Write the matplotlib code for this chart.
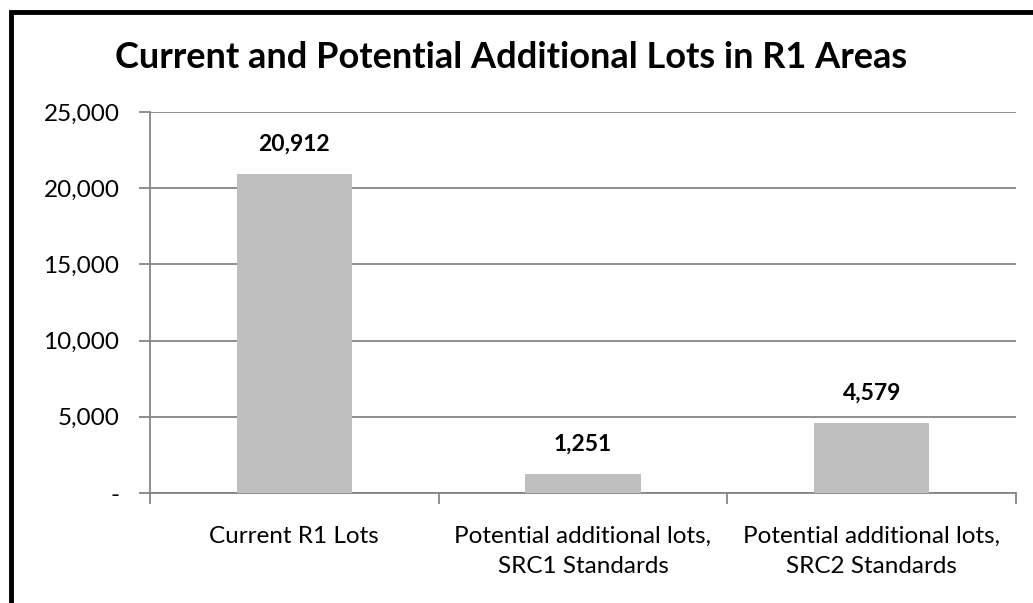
import matplotlib
matplotlib.use('Agg')
import matplotlib.pyplot as plt
from matplotlib.patches import Rectangle
from matplotlib.ticker import FuncFormatter, FixedLocator

categories = ['Current R1 Lots',
              'Potential additional lots,\nSRC1 Standards',
              'Potential additional lots,\nSRC2 Standards']
lots = [20912, 1251, 4579]
y_ticks = [0, 5000, 10000, 15000, 20000, 25000]

plt.rcParams['font.family'] = ['Lato', 'DejaVu Sans']

fig = plt.figure(figsize=(10.33, 6.03), dpi=100)
ax = fig.add_axes([150 / 1033, 1 - 493 / 603, 866 / 1033, 381 / 603])

grid_col = '#868686'
x = range(len(lots))
ax.bar(x, lots, width=0.4, color='#bfbfbf', zorder=3)

for i, v in enumerate(lots):
    ax.annotate(f'{v:,}', (i, v), xytext=(0, 21.5), textcoords='offset points',
                ha='center', va='center', fontsize=16.5, fontweight='bold',
                color='black')

ax.set_xlim(-0.5, 2.5)
ax.set_ylim(0, 25000)
ax.set_yticks(y_ticks)
ax.yaxis.set_major_formatter(FuncFormatter(lambda v, p: '-' if v == 0 else f'{int(v):,}'))
ax.yaxis.grid(True, color=grid_col, linewidth=1.3, zorder=0)

ax.set_xticks(list(x))
ax.set_xticklabels(categories, fontsize=17.5, linespacing=1.5)
ax.xaxis.set_minor_locator(FixedLocator([-0.5, 0.5, 1.5, 2.5]))
ax.tick_params(axis='x', which='major', length=0, pad=24)
ax.tick_params(axis='x', which='minor', length=8, width=1.3, color=grid_col)
ax.tick_params(axis='y', length=8, width=1.3, color=grid_col, labelsize=17.5, pad=14)

for side in ['top', 'right']:
    ax.spines[side].set_visible(False)
for side in ['left', 'bottom']:
    ax.spines[side].set_color(grid_col)
    ax.spines[side].set_linewidth(1.3)

fig.text(0.495, 1 - 58 / 603, 'Current and Potential Additional Lots in R1 Areas',
         ha='center', va='center', fontsize=26, fontweight='bold')

# black frame around the chart (cut off at right and bottom)
fig.patches.append(Rectangle((10.5 / 1033, -0.05), 1.1, 1 - 12 / 603 + 0.05,
                             transform=fig.transFigure, fill=False,
                             edgecolor='black', linewidth=3.5))

fig.savefig('out.png', dpi=100)
